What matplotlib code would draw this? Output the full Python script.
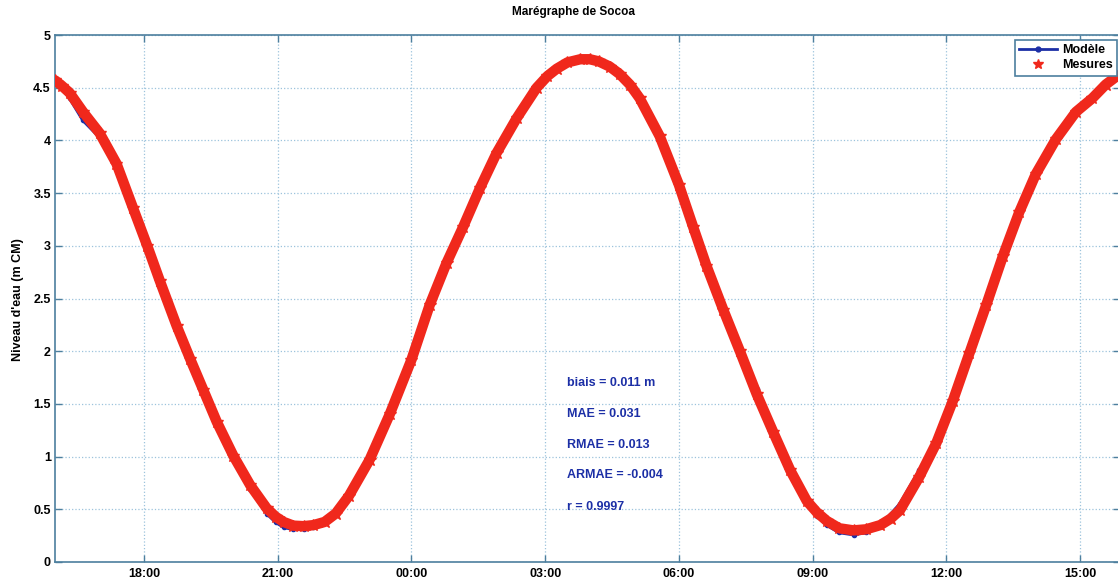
#!/usr/bin/env python3
"""Maregraphe de Socoa - modele vs mesures (niveau d'eau)."""

import matplotlib
matplotlib.use("Agg")
import matplotlib.pyplot as plt
from matplotlib.lines import Line2D

# hours counted from 18:00 on the first day
hours = [-2.0, -1.85, -1.67, -1.37, -1.0, -0.62, -0.25, 0.07, 0.35, 0.73,
         1.03, 1.33, 1.63, 2.0, 2.38, 2.75, 2.95, 3.13, 3.35, 3.58,
         3.8, 4.05, 4.3, 4.6, 5.06, 5.51, 6.0, 6.41, 6.79, 7.16,
         7.54, 7.91, 8.36, 8.81, 9.05, 9.26, 9.5, 9.79, 10.0, 10.2,
         10.45, 10.67, 10.9, 11.12, 11.57, 12.0, 12.32, 12.62, 13.0, 13.37,
         13.75, 14.12, 14.5, 14.87, 15.1, 15.32, 15.6, 15.92, 16.2, 16.52,
         16.75, 16.96, 17.4, 17.78, 18.15, 18.52, 18.9, 19.27, 19.64, 20.01,
         20.46, 20.91, 21.28, 21.58, 21.8, 22.0]

mesures = [4.57, 4.52, 4.45, 4.27, 4.07, 3.78, 3.36, 3.0, 2.67, 2.24,
           1.93, 1.63, 1.33, 1.01, 0.73, 0.51, 0.43, 0.38, 0.345, 0.34,
           0.35, 0.38, 0.46, 0.63, 0.97, 1.40, 1.92, 2.44, 2.84, 3.18,
           3.55, 3.88, 4.21, 4.50, 4.61, 4.68, 4.74, 4.77, 4.77, 4.75,
           4.70, 4.63, 4.53, 4.40, 4.04, 3.58, 3.18, 2.81, 2.39, 2.0,
           1.59, 1.23, 0.87, 0.58, 0.47, 0.39, 0.32, 0.30, 0.31, 0.35,
           0.41, 0.49, 0.81, 1.13, 1.53, 1.98, 2.44, 2.90, 3.32, 3.68,
           4.01, 4.27, 4.40, 4.53, 4.60, 4.65]

modele = [4.56, 4.50, 4.40, 4.19, 4.03, 3.76, 3.35, 3.0, 2.67, 2.25,
          1.94, 1.64, 1.32, 0.98, 0.69, 0.46, 0.38, 0.33, 0.31, 0.31,
          0.33, 0.38, 0.48, 0.67, 1.00, 1.42, 1.93, 2.45, 2.85, 3.19,
          3.56, 3.89, 4.22, 4.51, 4.62, 4.69, 4.75, 4.77, 4.77, 4.75,
          4.70, 4.63, 4.53, 4.40, 4.05, 3.60, 3.21, 2.85, 2.43, 2.03,
          1.64, 1.26, 0.87, 0.56, 0.44, 0.35, 0.28, 0.26, 0.28, 0.36,
          0.45, 0.55, 0.87, 1.18, 1.57, 2.01, 2.46, 2.91, 3.33, 3.68,
          4.01, 4.27, 4.40, 4.53, 4.60, 4.65]

xtick_pos = [0, 3, 6, 9, 12, 15, 18, 21]
xtick_labels = ["18:00", "21:00", "00:00", "03:00", "06:00", "09:00", "12:00", "15:00"]
ytick_pos = [0, 0.5, 1, 1.5, 2, 2.5, 3, 3.5, 4, 4.5, 5]
ytick_labels = ["0", "0.5", "1", "1.5", "2", "2.5", "3", "3.5", "4", "4.5", "5"]

stats = ["biais = 0.011 m", "MAE = 0.031", "RMAE = 0.013", "ARMAE = -0.004", "r = 0.9997"]

plt.rcParams["font.family"] = ["Liberation Sans", "DejaVu Sans"]
plt.rcParams["font.weight"] = "bold"

W, H = 1118, 579
fig = plt.figure(figsize=(W / 100, H / 100), dpi=100)
# axes box in pixels: left 55, right ~1120 (just past the image edge), top 35, bottom 562
ax = fig.add_axes([55 / W, (H - 562) / H, (1120 - 55) / W, (562 - 35) / H])

spine_col = "#4d7f9e"
blue = "#1c2fa6"
red = "#f0281c"

ax.plot(hours, modele, color=blue, linewidth=2.5, marker=".", markersize=6,
        solid_joinstyle="round", zorder=3)
ax.plot(hours, mesures, color=red, linewidth=7.5, marker="*", markersize=9,
        solid_capstyle="round", solid_joinstyle="round", zorder=4)

ax.set_xlim(-2.0, 21.9)
ax.set_ylim(0, 5)
ax.set_xticks(xtick_pos)
ax.set_xticklabels(xtick_labels)
ax.set_yticks(ytick_pos)
ax.set_yticklabels(ytick_labels)
ax.tick_params(direction="in", length=5, width=1, color=spine_col, labelsize=9,
               top=True, right=True, labelcolor="black")
ax.tick_params(axis="x", pad=4)
ax.tick_params(axis="y", pad=3)
for lab in ax.get_xticklabels() + ax.get_yticklabels():
    lab.set_fontweight("bold")
for sp in ax.spines.values():
    sp.set_color(spine_col)
    sp.set_linewidth(1.2)
ax.grid(True, linestyle=":", color="#9cc3dc", linewidth=0.9)
ax.set_axisbelow(True)

# statistics block
stat_levels = [1.70, 1.40, 1.11, 0.83, 0.52]
for s, lv in zip(stats, stat_levels):
    ax.text(9.5, lv, s, color=blue, fontsize=9, fontweight="bold", va="center", ha="left", zorder=5)

fig.text(574 / W, 1 - 12 / H, "Marégraphe de Socoa", ha="center", va="center",
         fontsize=8.5, fontweight="bold")
fig.text(18 / W, 1 - 300 / H, "Niveau d'eau (m CM)", ha="center", va="center",
         rotation=90, fontsize=9, fontweight="bold")

handles = [
    Line2D([], [], color=blue, linewidth=2, marker=".", markersize=7),
    Line2D([], [], color=red, linestyle="none", marker="*", markersize=7),
]
leg = fig.legend(handles, ["Modèle", "Mesures"], loc="upper right",
                 bbox_to_anchor=(1117 / W, 1 - 40 / H), bbox_transform=fig.transFigure,
                 borderaxespad=0, fontsize=9, handlelength=3.0, handletextpad=0.4,
                 borderpad=0.35, labelspacing=0.25, fancybox=False, framealpha=1)
leg.get_frame().set_edgecolor(spine_col)
leg.get_frame().set_linewidth(1.2)
for t in leg.get_texts():
    t.set_fontweight("bold")

fig.savefig("out.png", dpi=100)
